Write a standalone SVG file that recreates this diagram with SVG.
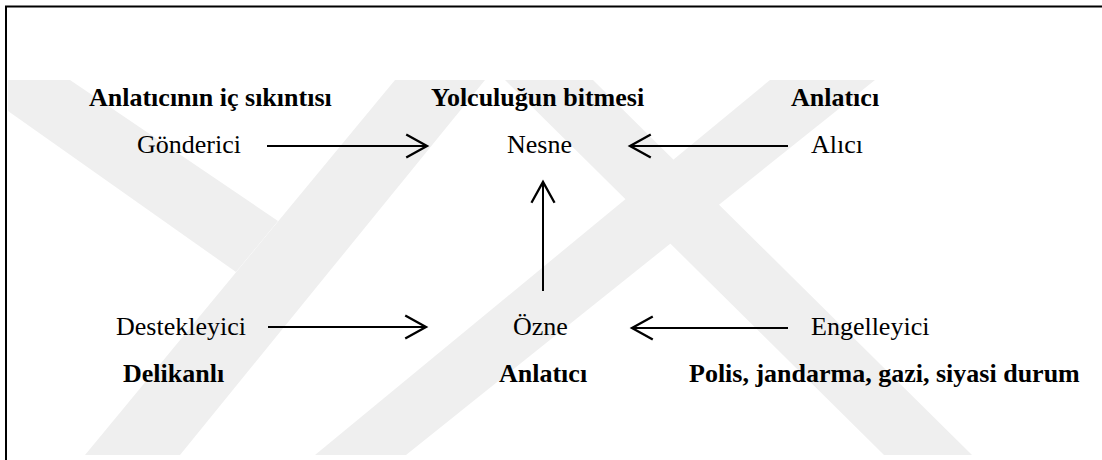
<svg xmlns="http://www.w3.org/2000/svg" width="1102" height="460" viewBox="0 0 1102 460">
<style>
.t{font-family:"Liberation Serif","Times New Roman",serif;font-size:26px;fill:#000}
.b{font-weight:bold}
.wm{fill:#efefef}
.c{stroke:#000;stroke-width:2;fill:none}
</style>
<defs>
<marker id="ah" markerUnits="userSpaceOnUse" markerWidth="30" markerHeight="30" viewBox="-22 -13 26 26" refX="0" refY="0" orient="auto">
<path d="M-18,-10 L0,0 L-18,10" fill="none" stroke="#000" stroke-width="2"/>
</marker>
</defs>
<rect width="1102" height="460" fill="#fff"/>
<g id="watermark">
<polygon class="wm" points="8,80 70,80 278,221 236,272 8,111"/>
<polygon class="wm" points="395,80 485,80 180,455 85,455"/>
<polygon class="wm" points="770,80 875,80 406,455 315,455"/>
<polygon class="wm" points="505,80 593,80 972,455 884,455"/>
</g>
<path id="border" d="M6,460 V6.5 H1102" fill="none" stroke="#000" stroke-width="2"/>
<g id="connectors">
<line class="c" x1="267" y1="146" x2="427" y2="146" marker-end="url(#ah)"/>
<line class="c" x1="788" y1="146" x2="630" y2="146" marker-end="url(#ah)"/>
<line class="c" x1="543" y1="291" x2="543" y2="182" marker-end="url(#ah)"/>
<line class="c" x1="268" y1="327" x2="426" y2="327" marker-end="url(#ah)"/>
<line class="c" x1="788" y1="328" x2="632" y2="328" marker-end="url(#ah)"/>
</g>
<g id="gonderici">
<text class="t b" x="89" y="106">Anlatıcının iç sıkıntısı</text>
<text class="t" x="137" y="153">Gönderici</text>
</g>
<g id="nesne">
<text class="t b" x="431" y="106">Yolculuğun bitmesi</text>
<text class="t" x="507" y="153">Nesne</text>
</g>
<g id="alici">
<text class="t b" x="791" y="106">Anlatıcı</text>
<text class="t" x="811" y="153">Alıcı</text>
</g>
<g id="destekleyici">
<text class="t" x="116" y="335">Destekleyici</text>
<text class="t b" x="123" y="382">Delikanlı</text>
</g>
<g id="ozne">
<text class="t" x="513" y="335">Özne</text>
<text class="t b" x="499" y="382">Anlatıcı</text>
</g>
<g id="engelleyici">
<text class="t" x="811" y="335">Engelleyici</text>
<text class="t b" x="689" y="382">Polis, jandarma, gazi, siyasi durum</text>
</g>
</svg>
